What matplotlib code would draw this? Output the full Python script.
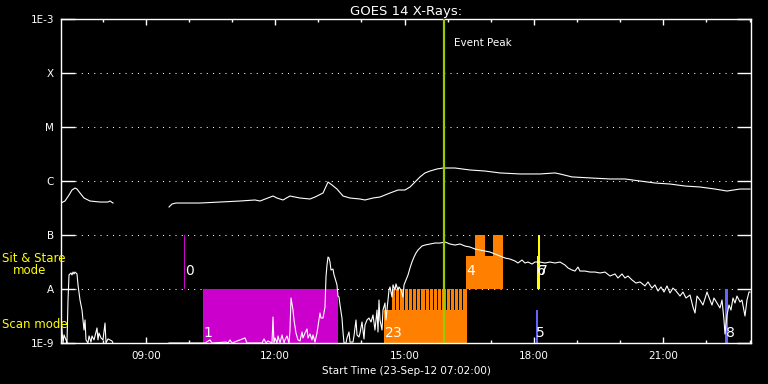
import numpy as np
import matplotlib
matplotlib.use("Agg")
import matplotlib.pyplot as plt
import matplotlib.transforms as mtransforms
from matplotlib.ticker import FixedLocator, FuncFormatter, NullFormatter

nan = float("nan")

# GOES 14 long channel (1-8 A), hours of 23-Sep-12, W/m^2
long_time = [7.033, 7.126, 7.219, 7.288, 7.358, 7.404, 7.474, 7.567, 7.706, 7.938,
             8.123, 8.170, 8.239, nan,
             9.538, 9.607, 9.700, 10.025, 10.256, 10.720, 11.184, 11.532, 11.648, 11.949,
             12.042, 12.181, 12.343, 12.575, 12.807, 12.923, 13.109, 13.225, 13.317, 13.433,
             13.572, 13.735, 13.967, 14.082, 14.268, 14.430, 14.662, 14.848, 15.010, 15.126,
             15.242, 15.358, 15.474, 15.590, 15.752, 15.891, 16.169, 16.517, 16.865, 17.213,
             17.677, 18.140, 18.488, 18.604, 18.882, 19.300, 19.764, 20.111, 20.459, 20.807,
             21.155, 21.503, 21.850, 22.198, 22.477, 22.778, 23.010]
long_flux = [3.91e-7, 4.26e-7, 5.50e-7, 6.81e-7, 7.41e-7, 7.10e-7, 5.99e-7, 4.84e-7, 4.26e-7, 4.08e-7,
             4.08e-7, 4.26e-7, 3.91e-7, nan,
             3.30e-7, 3.75e-7, 3.91e-7, 3.91e-7, 3.91e-7, 4.08e-7, 4.26e-7, 4.45e-7, 4.26e-7, 5.27e-7,
             4.84e-7, 4.45e-7, 5.27e-7, 4.84e-7, 4.64e-7, 5.05e-7, 5.99e-7, 9.58e-7, 8.43e-7, 7.10e-7,
             5.27e-7, 4.84e-7, 4.64e-7, 4.45e-7, 4.84e-7, 5.05e-7, 5.99e-7, 6.81e-7, 6.81e-7, 7.74e-7,
             9.58e-7, 1.19e-6, 1.41e-6, 1.53e-6, 1.67e-6, 1.74e-6, 1.74e-6, 1.60e-6, 1.53e-6, 1.41e-6,
             1.35e-6, 1.35e-6, 1.41e-6, 1.35e-6, 1.19e-6, 1.14e-6, 1.09e-6, 1.09e-6, 1.00e-6, 9.18e-7,
             8.79e-7, 8.07e-7, 7.74e-7, 7.10e-7, 6.52e-7, 7.10e-7, 7.10e-7]

# GOES 14 short channel (0.5-4 A)
short_time = [7.033, 7.057, 7.080, 7.103, 7.149, 7.172, 7.196, 7.219, 7.265, 7.288,
              7.312, 7.335, 7.358, 7.381, 7.404, 7.428, 7.474, 7.520, 7.543, 7.567,
              7.590, 7.613, 7.659, 7.683, 7.729, 7.752, 7.799, 7.868, 7.891, 7.914,
              7.961, 8.007, 8.054, 8.077, 8.123, 8.170, 8.216, 8.239, nan,
              9.538, 10.372, 10.488, 10.535, 10.859, 10.906, 10.952, 10.998, 11.300, 11.346,
              11.694, 11.741, 11.787, 11.833, 11.926, 11.949, 11.972, 11.996, 12.042, 12.065,
              12.111, 12.158, 12.204, 12.227, 12.274, 12.320, 12.343, 12.367, 12.413, 12.436,
              12.482, 12.529, 12.575, 12.622, 12.645, 12.691, 12.738, 12.761, 12.807, 12.853,
              12.877, 12.923, 12.969, 13.016, 13.039, 13.062, 13.109, 13.155, 13.178, 13.201,
              13.225, 13.248, 13.271, 13.294, 13.340, 13.364, 13.387, 13.433, 13.456, 13.480,
              13.503, 13.549, 13.572, 13.596, 13.642, 13.665, 13.711, 13.735, 13.804, 13.827,
              13.874, 13.897, 13.943, 13.967, 14.013, 14.059, 14.082, 14.129, 14.175, 14.222,
              14.268, 14.314, 14.361, 14.384, 14.407, 14.430, 14.477, 14.500, 14.546, 14.569,
              14.616, 14.639, 14.662, 14.709, 14.732, 14.778, 14.801, 14.848, 14.871, 14.917,
              14.964, 14.987, 15.033, 15.080, 15.126, 15.172, 15.219, 15.265, 15.311, 15.358,
              15.404, 15.474, 15.590, 15.706, 15.822, 15.938, 16.053, 16.169, 16.285, 16.401,
              16.517, 16.633, 16.749, 16.865, 16.981, 17.097, 17.213, 17.329, 17.445, 17.561,
              17.630, 17.723, 17.793, 17.862, 17.955, 18.024, 18.140, 18.256, 18.372, 18.488,
              18.604, 18.720, 18.790, 18.882, 18.952, 19.021, 19.068, 19.184, 19.300, 19.416,
              19.532, 19.648, 19.764, 19.879, 19.949, 20.042, 20.111, 20.181, 20.274, 20.366,
              20.459, 20.575, 20.645, 20.737, 20.807, 20.877, 20.946, 21.016, 21.085, 21.155,
              21.224, 21.294, 21.387, 21.456, 21.526, 21.619, 21.688, 21.735, 21.781, 21.850,
              21.920, 22.013, 22.082, 22.129, 22.175, 22.245, 22.314, 22.361, 22.407, 22.430,
              22.477, 22.523, 22.569, 22.616, 22.662, 22.708, 22.778, 22.824, 22.894, 22.940,
              22.987, 23.010]
short_flux = [3.03e-9, 1.74e-9, 1.00e-9, 1.41e-9, 1.14e-9, 1.00e-9, 6.25e-9, 1.82e-8, 1.98e-8, 1.82e-8,
              2.06e-8, 1.90e-8, 2.06e-8, 1.98e-8, 1.90e-8, 1.19e-8, 6.25e-9, 4.08e-9, 2.67e-9, 1.74e-9,
              2.67e-9, 1.14e-9, 1.00e-9, 1.35e-9, 1.04e-9, 1.35e-9, 1.14e-9, 1.90e-9, 1.14e-9, 1.53e-9,
              1.24e-9, 1.14e-9, 2.34e-9, 1.00e-9, 1.19e-9, 1.14e-9, 1.09e-9, 1.00e-9, nan,
              1.00e-9, 1.00e-9, 1.14e-9, 1.00e-9, 1.04e-9, 1.00e-9, 1.14e-9, 1.00e-9, 1.24e-9, 1.00e-9,
              1.00e-9, 1.19e-9, 1.00e-9, 1.09e-9, 1.00e-9, 3.03e-9, 1.00e-9, 1.24e-9, 1.00e-9, 1.35e-9,
              1.00e-9, 1.41e-9, 1.00e-9, 1.14e-9, 1.35e-9, 1.00e-9, 1.74e-9, 6.81e-9, 4.08e-9, 2.67e-9,
              1.53e-9, 1.14e-9, 1.09e-9, 1.60e-9, 1.24e-9, 1.53e-9, 1.82e-9, 1.24e-9, 1.47e-9, 1.14e-9,
              1.41e-9, 1.04e-9, 1.53e-9, 2.67e-9, 3.59e-9, 2.90e-9, 2.90e-9, 4.64e-9, 1.67e-8, 2.78e-8,
              3.91e-8, 3.75e-8, 3.16e-8, 2.25e-8, 2.34e-8, 1.82e-8, 1.60e-8, 1.19e-8, 7.41e-9, 7.10e-9,
              5.05e-9, 2.90e-9, 1.60e-9, 1.00e-9, 1.00e-9, 1.24e-9, 1.60e-9, 1.04e-9, 1.04e-9, 1.35e-9,
              2.67e-9, 1.41e-9, 1.29e-9, 1.53e-9, 2.45e-9, 1.19e-9, 2.15e-9, 2.67e-9, 2.90e-9, 2.45e-9,
              3.30e-9, 1.74e-9, 4.08e-9, 1.60e-9, 6.25e-9, 2.67e-9, 1.74e-9, 4.08e-9, 5.50e-9, 2.67e-9,
              6.25e-9, 9.58e-9, 1.09e-8, 7.10e-9, 1.19e-8, 9.58e-9, 1.24e-8, 9.58e-9, 1.09e-8, 9.58e-9,
              7.10e-9, 1.19e-8, 1.47e-8, 1.82e-8, 2.45e-8, 3.16e-8, 3.91e-8, 4.64e-8, 5.27e-8, 5.74e-8,
              6.25e-8, 6.52e-8, 6.81e-8, 7.10e-8, 7.10e-8, 7.41e-8, 6.81e-8, 6.52e-8, 6.81e-8, 6.25e-8,
              5.99e-8, 5.50e-8, 5.27e-8, 5.05e-8, 4.84e-8, 4.45e-8, 4.08e-8, 3.75e-8, 3.59e-8, 3.30e-8,
              3.03e-8, 3.44e-8, 3.03e-8, 3.16e-8, 2.90e-8, 3.16e-8, 3.16e-8, 3.03e-8, 3.16e-8, 3.03e-8,
              3.16e-8, 2.78e-8, 2.45e-8, 2.25e-8, 2.15e-8, 2.55e-8, 2.15e-8, 2.15e-8, 2.06e-8, 2.06e-8,
              1.98e-8, 2.06e-8, 1.74e-8, 1.90e-8, 1.60e-8, 1.90e-8, 1.60e-8, 1.74e-8, 1.47e-8, 1.29e-8,
              1.35e-8, 1.14e-8, 1.35e-8, 1.04e-8, 1.19e-8, 9.18e-9, 1.09e-8, 8.79e-9, 1.14e-8, 8.43e-9,
              1.04e-8, 9.18e-9, 7.41e-9, 8.79e-9, 6.81e-9, 7.74e-9, 4.64e-9, 3.59e-9, 7.41e-9, 6.25e-9,
              5.05e-9, 8.79e-9, 6.25e-9, 5.05e-9, 6.81e-9, 5.50e-9, 4.45e-9, 6.25e-9, 2.67e-9, 1.47e-9,
              3.30e-9, 5.05e-9, 4.08e-9, 6.81e-9, 5.50e-9, 7.41e-9, 5.74e-9, 6.25e-9, 3.16e-9, 6.25e-9,
              8.79e-9, 8.79e-9]

# IRIS observations (bars)
obs_ids   = [0, 1, 2, 4, 4, 4, 5, 6, 7, 8]
obs_start = [9.884, 10.326, 14.523, 16.424, 16.633, 17.051, 18.041, 18.064, 18.087, 22.430]
obs_end   = [9.907, 13.456, 16.448, 17.282, 16.865, 17.282, 18.087, 18.087, 18.140, 22.493]
obs_low   = [1e-8, 1e-9, 1e-9, 1e-8, 1e-8, 1e-8, 1e-9, 1e-8, 1e-8, 1e-9]
obs_high  = [1e-7, 1e-8, 4.1e-9, 4.1e-8, 1e-7, 1e-7, 4.1e-9, 4.1e-8, 1e-7, 1e-8]
# observation 3: repeated rasters
obs3_start = [14.709, 14.806, 14.904, 15.001, 15.098, 15.196, 15.293, 15.390, 15.488,
              15.585, 15.683, 15.780, 15.877, 15.975, 16.072, 16.169, 16.267, 16.364]
obs3_len = 0.075
obs_color = {0: "#CC00CC", 1: "#CC00CC", 2: "#FF8000", 3: "#FF8000", 4: "#FF8000",
             5: "#6464FF", 6: "#FFFF00", 7: "#FFFF00", 8: "#6464FF"}
scan_obs = [1, 2, 3, 5, 8]

event_peak = 15.903
t_start, t_end = 7.0333, 23.0333
level_vals = [1e-9, 1e-8, 1e-7, 1e-6, 1e-5, 1e-4, 1e-3]
level_labels = ["1E-9", "A", "B", "C", "M", "X", "1E-3"]

fig = plt.figure(figsize=(7.68, 3.84), dpi=100, facecolor="black")
ax = fig.add_axes([61 / 768, 41 / 384, 690 / 768, 324 / 384])
ax.set_facecolor("black")
ax.set_yscale("log")
ax.set_xlim(t_start, t_end)
ax.set_ylim(1e-9, 1e-3)

# dotted level lines
for v in level_vals[1:-1]:
    ax.axhline(v, xmin=0.021, xmax=0.979, color="white", lw=0.75, linestyle=(0, (1, 5)), zorder=1)

# observation bars
for i, s, e, lo, hi in zip(obs_ids, obs_start, obs_end, obs_low, obs_high):
    ax.bar(s, hi - lo, width=e - s, bottom=lo, align="edge", color=obs_color[i], lw=0,
           antialiased=False, zorder=2)
for s in obs3_start:
    ax.bar(s, 1e-8 - 1e-9, width=obs3_len, bottom=1e-9, align="edge", color=obs_color[3], lw=0,
           antialiased=False, zorder=2)

ax.plot(long_time, long_flux, color="white", lw=0.8, zorder=3)
ax.plot(short_time, short_flux, color="white", lw=0.8, zorder=3)

ax.axvline(event_peak, color="#99CC00", lw=1.6, zorder=4)
trans = mtransforms.blended_transform_factory(ax.transData, ax.transAxes)
ax.annotate("Event Peak", xy=(event_peak, 0.926), xycoords=trans, xytext=(7.5, 0),
            textcoords="offset points", color="white", fontsize=7.5, va="center", ha="left")

# observation number labels at first start
first_start = {}
for i, s in zip(obs_ids, obs_start):
    first_start.setdefault(i, s)
first_start[3] = obs3_start[0]
for i in sorted(first_start):
    yfrac = 0.032 if i in scan_obs else 0.221
    ax.annotate(str(i), xy=(first_start[i], yfrac), xycoords=trans, xytext=(0.5, 0),
                textcoords="offset points", color="white", fontsize=10,
                va="center", ha="left", zorder=5)

# axes styling
for sp in ax.spines.values():
    sp.set_color("white")
    sp.set_linewidth(1)
ax.yaxis.set_major_locator(FixedLocator(level_vals))
ax.yaxis.set_major_formatter(FuncFormatter(lambda v, p: level_labels[int(round(np.log10(v))) + 9]))
ax.yaxis.set_minor_locator(FixedLocator([]))
ax.yaxis.set_minor_formatter(NullFormatter())
ax.tick_params(axis="y", which="major", direction="in", length=10, width=1, left=True, right=True,
               colors="white", labelsize=7.5, pad=5)

major_hours = [9, 12, 15, 18, 21]
minor_hours = [h for h in range(8, 24) if h not in major_hours]
ax.xaxis.set_major_locator(FixedLocator(major_hours))
ax.xaxis.set_minor_locator(FixedLocator(minor_hours))
ax.xaxis.set_major_formatter(FuncFormatter(lambda v, p: f"{int(v):02d}:00"))
ax.tick_params(axis="x", which="major", direction="in", length=4.5, width=1, top=True, bottom=True,
               colors="white", labelsize=7.5, pad=6)
ax.tick_params(axis="x", which="minor", direction="in", length=2.5, width=1, top=True, bottom=True,
               colors="white")

ax.set_xlabel("Start Time (23-Sep-12 07:02:00)", color="white", fontsize=7.5, labelpad=3)
ax.set_title("GOES 14 X-Rays:", color="white", fontsize=9.5, pad=3)

fig.text(2 / 768, 1 - 258 / 384, "Sit & Stare", color="#FFFF00", fontsize=8.5, va="center", ha="left")
fig.text(13 / 768, 1 - 271 / 384, "mode", color="#FFFF00", fontsize=8.5, va="center", ha="left")
fig.text(2 / 768, 1 - 324 / 384, "Scan mode", color="#FFFF00", fontsize=8.5, va="center", ha="left")

fig.savefig("out.png", dpi=100, facecolor="black")
